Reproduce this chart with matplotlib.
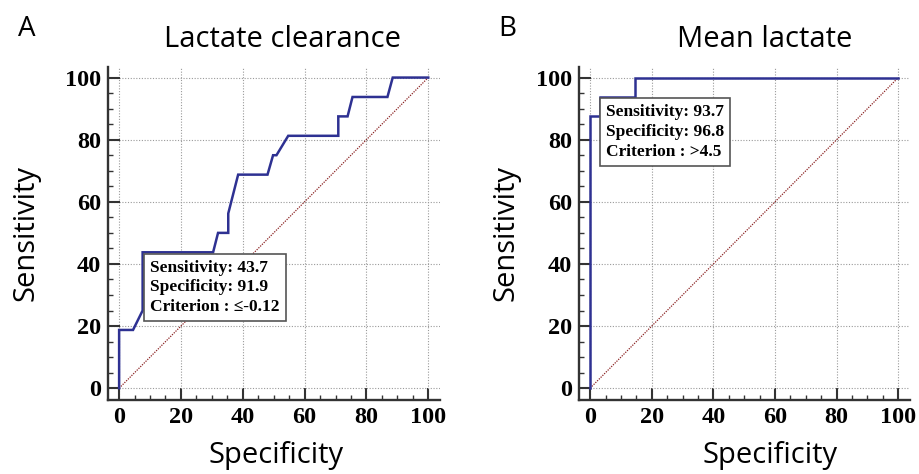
import matplotlib
matplotlib.use("Agg")
import matplotlib.pyplot as plt
from matplotlib.ticker import MultipleLocator

# ROC curve A: lactate clearance (x = 100-specificity, y = sensitivity)
clear_x = [0, 0, 4.5, 7.6, 7.6, 30.4, 32.0, 35.3, 35.3, 38.5, 48.0, 49.8, 50.9, 54.7, 70.9, 70.9, 73.9, 75.5, 86.8, 88.5, 100]
clear_y = [0, 18.75, 18.75, 25.0, 43.75, 43.75, 50.0, 50.0, 56.25, 68.75, 68.75, 75.0, 75.0, 81.25, 81.25, 87.5, 87.5, 93.75, 93.75, 100, 100]

# ROC curve B: mean lactate
mean_x = [0, 0, 3.2, 3.2, 14.5, 14.5, 100]
mean_y = [0, 87.5, 87.5, 93.75, 93.75, 100, 100]

ticks = [0, 20, 40, 60, 80, 100]

panels = [
    dict(letter="A", title="Lactate clearance", x=clear_x, y=clear_y,
         point=(8.1, 43.7), box="Sensitivity: 43.7\nSpecificity: 91.9\nCriterion : \u2264-0.12",
         left=108, right=440, title_x=282, xlabel_x=276, ylabel_x=26, letter_x=18),
    dict(letter="B", title="Mean lactate", x=mean_x, y=mean_y,
         point=(3.2, 93.7), box="Sensitivity: 93.7\nSpecificity: 96.8\nCriterion : >4.5",
         left=579, right=910, title_x=765, xlabel_x=770, ylabel_x=506, letter_x=498),
]

W, H = 919, 474
fig = plt.figure(figsize=(W / 100, H / 100), dpi=100)

sans = "Open Sans"
serif = ["Liberation Serif", "DejaVu Serif"]
curve_col = "#2e3192"

for p in panels:
    ax = fig.add_axes([p["left"] / W, (H - 400) / H, (p["right"] - p["left"]) / W, 333 / H])
    ax.set_xlim(-3.6, 103.8)
    ax.set_ylim(-3.8, 103.4)

    ax.plot([0, 100], [0, 100], color="#8b2323", lw=0.9, ls=(0, (1, 1)), zorder=2)
    ax.plot(p["x"], p["y"], color=curve_col, lw=1.8, zorder=3, solid_joinstyle="miter")

    ax.xaxis.set_minor_locator(MultipleLocator(5))
    ax.yaxis.set_minor_locator(MultipleLocator(5))
    ax.set_xticks(ticks)
    ax.set_yticks(ticks)
    ax.grid(True, which="major", color="#9a9a9a", lw=0.8, ls=(0, (1, 1.5)), zorder=1)

    for s in ["top", "right"]:
        ax.spines[s].set_visible(False)
    for s in ["left", "bottom"]:
        ax.spines[s].set_linewidth(1.7)
        ax.spines[s].set_color("#333333")

    ax.tick_params(which="major", direction="in", length=8.3, width=1.5, color="#333333", pad=5)
    ax.tick_params(which="minor", direction="in", length=3.6, width=1.0, color="#333333")
    for lab in ax.get_xticklabels() + ax.get_yticklabels():
        lab.set_fontfamily(serif)
        lab.set_fontweight("bold")
        lab.set_fontsize(17.5)

    ax.annotate(p["box"], xy=p["point"], xytext=(4.3, -5.3), textcoords="offset points",
                ha="left", va="top", fontsize=12.5, fontweight="bold", family=serif,
                linespacing=1.3, zorder=4,
                bbox=dict(boxstyle="square,pad=0.35", fc="white", ec="#555555", lw=1.2))

    fig.text(p["letter_x"] / W, 1 - 36 / H, p["letter"], family=sans, fontsize=20,
             ha="left", va="baseline")
    fig.text(p["title_x"] / W, 1 - 47 / H, p["title"], family=sans, fontsize=21,
             ha="center", va="baseline")
    fig.text(p["xlabel_x"] / W, 1 - 463 / H, "Specificity", family=sans, fontsize=21,
             ha="center", va="baseline")
    fig.text(p["ylabel_x"] / W, 1 - 233 / H, "Sensitivity", family=sans, fontsize=21,
             ha="center", va="center", rotation=90)

fig.savefig("out.png", dpi=100)
